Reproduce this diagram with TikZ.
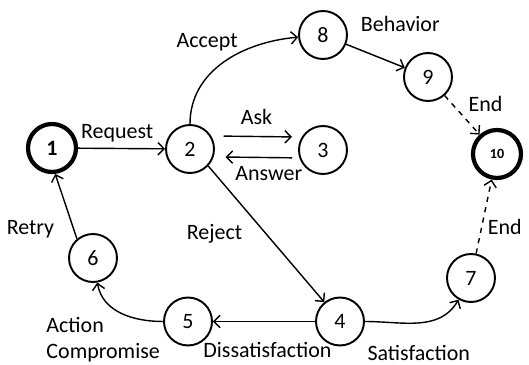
\documentclass[tikz,border=0pt]{standalone}
\usepackage{fontspec}
\setmainfont{Carlito}
\usetikzlibrary{arrows.meta,positioning}

\begin{document}
\begin{tikzpicture}[x=0.02cm,y=-0.02cm,>={Straight Barb[length=3.5pt,width=7pt]},
  font=\fontsize{12.5}{15}\selectfont,
  state/.style={circle,draw,line width=1.1pt,minimum size=0.96cm,inner sep=0pt},
  end state/.style={state,line width=2.4pt},
  every edge/.style={draw,->,line width=0.8pt}]
  \useasboundingbox (0,0) rectangle (529,365);

  \node[end state] (1) at (52,148) {\textbf{1}};
  \node[state] (2) at (190,149) {2};
  \node[state] (3) at (323,150) {3};
  \node[state] (8) at (323,35) {8};
  \node[state] (9) at (428,77) {9};
  \node[end state] (10) at (497,154) {\footnotesize\textbf{10}};
  \node[state] (7) at (471,278) {7};
  \node[state] (4) at (340,321.5) {4};
  \node[state] (5) at (188,321.5) {5};
  \node[state] (6) at (93,258) {6};

  \path
    (1) edge node [above,pos=0.45] {Request} (2)
    ([yshift=7.4pt]2.east) edge [shorten <=5pt,shorten >=3.4pt] node [above,yshift=3pt] {Ask} ([yshift=7.4pt]3.west)
    ([yshift=-4.5pt]3.west) edge [shorten <=3.4pt,shorten >=6pt] node [below,xshift=7pt,yshift=-1.5pt] {Answer} ([yshift=-4.5pt]2.east)
    (2) edge [out=90,in=185] node [above left,pos=0.55,xshift=8pt] {Accept} (8)
    (8) edge node [above right,pos=0.2,xshift=-2pt,yshift=6pt] {Behavior} (9)
    (2.-43) edge node [left,pos=0.5,xshift=-10pt] {Reject} (4.129)
    (4) edge node [below,yshift=-8pt,xshift=2pt] {Dissatisfaction} (5)
    (4) edge [out=0,in=240] node [below,pos=0.5,yshift=-9pt] {Satisfaction} (7)
    (5) edge [out=180,in=-80] node [below left,align=left,pos=0.1,xshift=7pt,yshift=6pt] {Action\\Compromise} (6)
    (6.130) edge node [left,pos=0.1,xshift=-8pt,yshift=2pt] {Retry} (1.-83);

  \path[dashed]
    (9) edge node [above right,yshift=-2pt] {End} (10)
    (7) edge node [right,pos=0.45,xshift=-1pt,yshift=-4pt] {End} (10);
\end{tikzpicture}
\end{document}
